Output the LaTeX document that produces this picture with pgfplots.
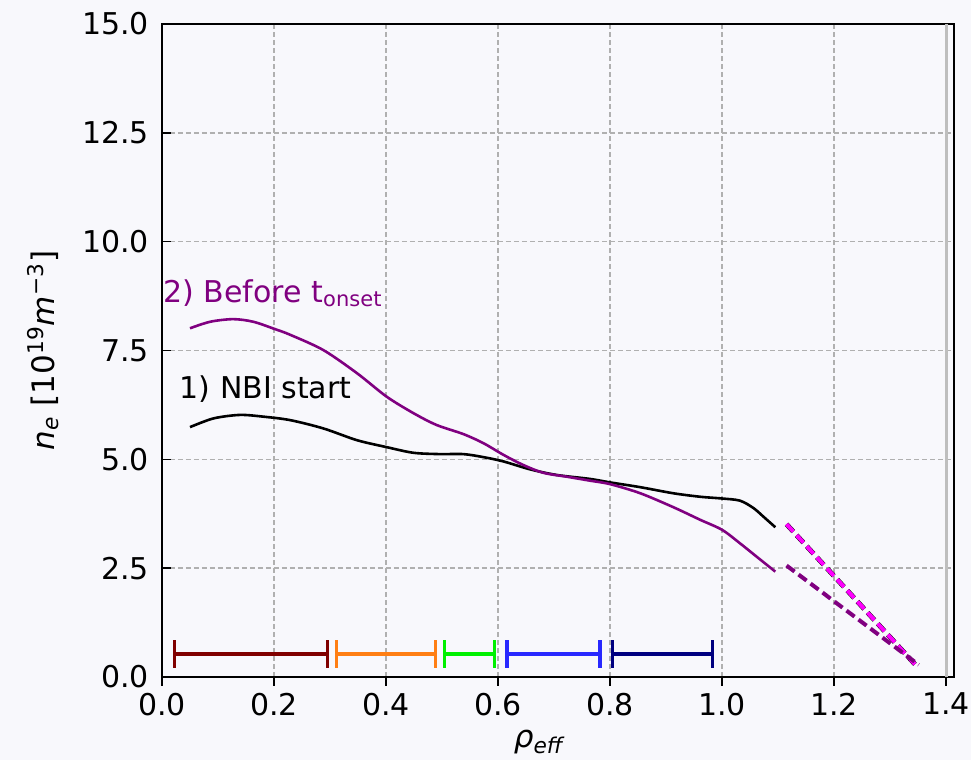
\documentclass[border=0pt]{standalone}
\usepackage{fontspec}
\setmainfont{DejaVu Sans}
\usepackage{pgfplots}
\pgfplotsset{compat=1.18}
\definecolor{bg}{RGB}{248,248,252}
\definecolor{gridc}{RGB}{176,176,176}
\definecolor{vline}{RGB}{190,190,190}
\definecolor{cpurple}{RGB}{128,0,128}
\definecolor{cmagenta}{RGB}{255,0,255}
\definecolor{cmaroon}{RGB}{128,0,0}
\definecolor{corange}{RGB}{255,127,20}
\definecolor{cgreen}{RGB}{0,240,0}
\definecolor{cblue}{RGB}{40,40,255}
\definecolor{cnavy}{RGB}{0,0,128}
\begin{document}
\begin{tikzpicture}
\useasboundingbox[fill=bg] (0,0) rectangle (485.5pt,380pt);
\begin{axis}[
  at={(81pt,41.5pt)}, anchor=south west,
  scale only axis, width=396pt, height=326.5pt,
  xmin=0, xmax=1.414, ymin=0, ymax=15,
  xtick={0,0.2,0.4,0.6,0.8,1.0,1.2,1.4},
  ytick={0,2.5,5,7.5,10,12.5,15},
  xtick pos=lower, ytick pos=left,
  xtick align=outside, ytick align=inside,
  major tick length=4.5pt,
  tick style={black, line width=0.8pt},
  axis line style={black, line width=1pt},
  grid=major,
  major grid style={gridc, line width=0.7pt, dash pattern=on 2.5pt off 1.5pt},
  tick label style={font=\fontsize{15}{17}\selectfont},
  yticklabel style={xshift=-3pt},
  /pgf/number format/.cd, fixed, fixed zerofill, precision=1, assume math mode=true,
  /pgfplots/.cd,
  xlabel={\textit{ρ}\textsubscript{\textit{eff}}},
  ylabel={\textit{n}\textsubscript{\textit{e}} [10\textsuperscript{19}\textit{m}\textsuperscript{−3}]},
  label style={font=\fontsize{15.5}{18}\selectfont},
  xlabel style={at={(axis description cs:0.477,-0.0995)}, anchor=center},
  ylabel style={at={(axis description cs:-0.150,0.5)}, anchor=center},
  clip=false,
]
% vertical reference line
\addplot[vline, line width=1.4pt] coordinates {(1.4,0) (1.4,15)};
% 1) NBI start
\addplot[black, line width=1.3pt, smooth, tension=0.5] coordinates {
(0.05,5.74)(0.092,5.94)(0.139,6.02)(0.181,5.98)(0.229,5.90)(0.288,5.71)(0.348,5.44)(0.401,5.28)(0.449,5.15)(0.496,5.12)(0.538,5.12)(0.574,5.05)(0.610,4.95)(0.657,4.77)(0.705,4.64)(0.764,4.55)(0.80,4.47)(0.854,4.36)(0.913,4.22)(0.961,4.14)(1.0,4.10)(1.032,4.05)(1.056,3.88)(1.074,3.68)(1.095,3.44)
};
% 2) Before t_onset
\addplot[cpurple, line width=1.3pt, smooth, tension=0.5] coordinates {
(0.05,8.01)(0.086,8.16)(0.127,8.22)(0.163,8.16)(0.202,7.99)(0.229,7.86)(0.288,7.51)(0.348,6.98)(0.401,6.44)(0.449,6.06)(0.490,5.79)(0.538,5.58)(0.574,5.37)(0.610,5.10)(0.645,4.87)(0.681,4.69)(0.723,4.60)(0.764,4.51)(0.80,4.43)(0.854,4.22)(0.913,3.90)(0.961,3.61)(1.0,3.38)(1.032,3.07)(1.062,2.76)(1.095,2.42)
};
% extrapolations
\addplot[black, line width=2.4pt, dash pattern=on 5pt off 2.5pt] coordinates {(1.115,3.51) (1.348,0.24)};
\addplot[cmagenta, line width=2pt, dash pattern=on 5pt off 2.5pt] coordinates {(1.115,3.51) (1.348,0.24)};
\addplot[cpurple, line width=2pt, dash pattern=on 5pt off 2.5pt] coordinates {(1.115,2.56) (1.351,0.28)};
% radial bins
\addplot[cmaroon, line width=1.6pt, mark=|, mark size=6.8pt, mark options={solid, line width=1.6pt}] coordinates {(0.023,0.53) (0.295,0.53)};
\addplot[corange, line width=1.6pt, mark=|, mark size=6.8pt, mark options={solid, line width=1.6pt}] coordinates {(0.311,0.53) (0.488,0.53)};
\addplot[cgreen, line width=1.6pt, mark=|, mark size=6.8pt, mark options={solid, line width=1.6pt}] coordinates {(0.505,0.53) (0.594,0.53)};
\addplot[cblue, line width=1.6pt, mark=|, mark size=6.8pt, mark options={solid, line width=1.6pt}] coordinates {(0.616,0.53) (0.782,0.53)};
\addplot[cnavy, line width=1.6pt, mark=|, mark size=6.8pt, mark options={solid, line width=1.6pt}] coordinates {(0.805,0.53) (0.983,0.53)};
% annotations
\node[anchor=base west, inner sep=0pt, text=cpurple, font=\fontsize{15}{18}\selectfont] at (axis cs:0.002,8.61) {2) Before t\textsubscript{onset}};
\node[anchor=base west, inner sep=0pt, text=black, font=\fontsize{15}{18}\selectfont] at (axis cs:0.031,6.39) {1) NBI start};
\end{axis}
\end{tikzpicture}
\end{document}
